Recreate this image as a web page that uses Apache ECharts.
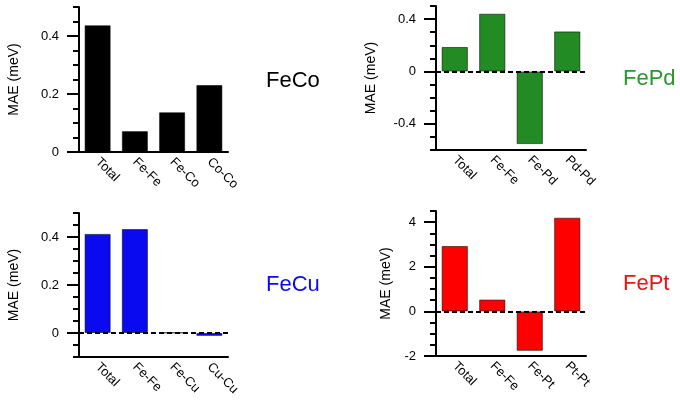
<!DOCTYPE html>
<html>
<head>
<meta charset="utf-8">
<title>MAE</title>
<script src="https://cdn.jsdelivr.net/npm/echarts@6/dist/echarts.min.js"></script>
<style>
	html, body { margin: 0; padding: 0; background: #fff; }
	#main { width: 680px; height: 401px; }
</style>
</head>
<body>
<div id="main"></div>
<script>
	// 数据
	var catsFeCo = ['Total', 'Fe-Fe', 'Fe-Co', 'Co-Co'];
	var maeFeCo = [0.437, 0.072, 0.137, 0.231];
	var catsFePd = ['Total', 'Fe-Fe', 'Fe-Pd', 'Pd-Pd'];
	var maeFePd = [0.187, 0.441, -0.555, 0.306];
	var catsFeCu = ['Total', 'Fe-Fe', 'Fe-Cu', 'Cu-Cu'];
	var maeFeCu = [0.413, 0.433, 0.002, -0.012];
	var catsFePt = ['Total', 'Fe-Fe', 'Fe-Pt', 'Pt-Pt'];
	var maeFePt = [2.93, 0.53, -1.77, 4.2];

	// 刻度标签
	var ticksFeCo = [0, 0.2, 0.4];
	var ticksFePd = [-0.4, 0, 0.4];
	var ticksFeCu = [0, 0.2, 0.4];
	var ticksFePt = [-2, 0, 2, 4];

	var font = 'Liberation Sans, Arial, Helvetica, sans-serif';

	var panels = [
		{ name: 'FeCo', cats: catsFeCo, vals: maeFeCo, ticks: ticksFeCo, color: '#000000', titleColor: '#000000',
			grid: { left: 79, top: 7, width: 149, height: 145 }, min: 0, max: 0.5, minor: 0.05, nameGap: 58, zeroLine: false,
			title: { left: 266, top: 70 } },
		{ name: 'FePd', cats: catsFePd, vals: maeFePd, ticks: ticksFePd, color: '#238b23', titleColor: '#2b962b',
			grid: { left: 436, top: 6, width: 150, height: 144 }, min: -0.6, max: 0.5, minor: 0.1, nameGap: 58, zeroLine: true,
			title: { left: 623, top: 68 } },
		{ name: 'FeCu', cats: catsFeCu, vals: maeFeCu, ticks: ticksFeCu, color: '#0a0af0', titleColor: '#0a0af0',
			grid: { left: 79, top: 213, width: 149, height: 144 }, min: -0.1, max: 0.5, minor: 0.05, nameGap: 58, zeroLine: true,
			title: { left: 266, top: 274 } },
		{ name: 'FePt', cats: catsFePt, vals: maeFePt, ticks: ticksFePt, color: '#ff0000', titleColor: '#f01010',
			grid: { left: 436, top: 211, width: 150, height: 145 }, min: -2, max: 4.5, minor: 0.5, nameGap: 43, zeroLine: true,
			title: { left: 623, top: 273 } }
	];

	var option = {
		backgroundColor: '#fff',
		animation: false,
		title: [],
		grid: [],
		xAxis: [],
		yAxis: [],
		series: []
	};

	panels.forEach(function(p, i) {
		option.title.push({
			text: p.name,
			left: p.title.left,
			top: p.title.top,
			padding: 0,
			textStyle: { fontFamily: font, fontSize: 22, fontWeight: 'normal', color: p.titleColor }
		});
		option.grid.push(p.grid);

		option.xAxis.push({
			type: 'category',
			gridIndex: i,
			data: p.cats,
			axisLine: { onZero: false, lineStyle: { color: '#000', width: 2 } },
			axisTick: { inside: true, alignWithLabel: true, length: 12, lineStyle: { color: '#000', width: 2 } },
			axisLabel: { rotate: -45, margin: 8, fontFamily: font, fontSize: 13, color: '#000' },
			splitLine: { show: false }
		});

		// 小刻度 + 轴线
		option.yAxis.push({
			type: 'value',
			gridIndex: i,
			position: 'left',
			min: p.min,
			max: p.max,
			interval: p.minor,
			axisLine: { show: true, lineStyle: { color: '#000', width: 2 } },
			axisTick: { show: true, length: 6, lineStyle: { color: '#000', width: 2 } },
			axisLabel: { show: false },
			splitLine: { show: false },
			name: 'MAE (meV)',
			nameLocation: 'middle',
			nameGap: p.nameGap,
			nameTextStyle: { fontFamily: font, fontSize: 14, color: '#000' }
		});
		// 大刻度 + 标签
		option.yAxis.push({
			type: 'value',
			gridIndex: i,
			position: 'left',
			min: p.min,
			max: p.max,
			axisLine: { show: false },
			axisTick: { show: true, length: 12, customValues: p.ticks, lineStyle: { color: '#000', width: 2 } },
			axisLabel: { show: true, customValues: p.ticks, margin: 20, fontFamily: font, fontSize: 13, color: '#000',
				formatter: function(v) { return String(Math.round(v * 100) / 100); } },
			splitLine: { show: false }
		});

		var s = {
			type: 'bar',
			xAxisIndex: i,
			yAxisIndex: i * 2,
			data: p.vals,
			barWidth: '70%',
			itemStyle: { color: p.color, borderColor: 'rgba(0,0,0,0.55)', borderWidth: 1 }
		};
		if(p.zeroLine) {
			s.markLine = {
				silent: true,
				symbol: ['none', 'none'],
				label: { show: false },
				lineStyle: { color: '#000', width: 2, type: [5, 3] },
				data: [{ yAxis: 0 }]
			};
		}
		option.series.push(s);
	});

	var chart = echarts.init(document.getElementById('main'), null, { renderer: 'canvas' });
	chart.setOption(option);
</script>
</body>
</html>
